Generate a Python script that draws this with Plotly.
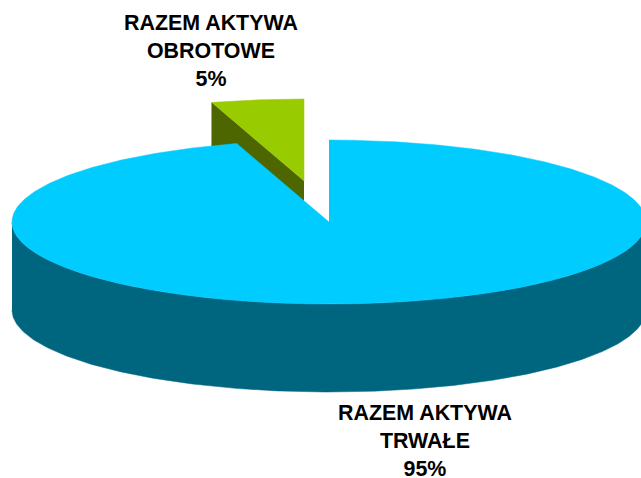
import numpy as np
import plotly.graph_objects as go

categories = ["RAZEM AKTYWA<br>TRWAŁE<br>95%", "RAZEM AKTYWA<br>OBROTOWE<br>5%"]
values = [95.3, 4.7]

W, H = 641, 478
CX, CY, RX, RY, DEPTH = 329, 222, 317, 82, 88
EXPLODE_DX, EXPLODE_DY = -25, -41

share = values[1] / sum(values)
split = 2 * np.pi * share


def rim(a0, a1, cx, cy, n=300):
    # angle measured counter-clockwise from 12 o'clock
    t = np.linspace(a0, a1, n)
    return cx - RX * np.sin(t), cy - RY * np.cos(t)


def poly(fig, xs, ys, color):
    fig.add_trace(go.Scatter(x=list(xs), y=list(ys), mode="lines", fill="toself",
                             fillcolor=color, line=dict(color=color, width=0.5),
                             hoverinfo="skip", showlegend=False))


fig = go.Figure()

# Exploded slice (drawn first, main pie covers its lower part)
sx, sy = CX + EXPLODE_DX, CY + EXPLODE_DY
rx_, ry_ = rim(0, split, sx, sy)
poly(fig, [sx, rx_[-1], rx_[-1], sx], [sy, ry_[-1], ry_[-1] + DEPTH, sy + DEPTH], "#4D6600")
poly(fig, np.r_[sx, rx_], np.r_[sy, ry_], "#99CC00")

# Main slice: side wall along the front, then top face
t = np.linspace(np.pi / 2, 3 * np.pi / 2, 300)
fx = CX - RX * np.sin(t)
fy = CY - RY * np.cos(t)
poly(fig, np.r_[fx, fx[::-1]], np.r_[fy, fy[::-1] + DEPTH], "#006680")
mx, my = rim(split, 2 * np.pi, CX, CY, 600)
poly(fig, np.r_[CX, mx], np.r_[CY, my], "#00CCFF")

font = dict(family="Liberation Sans, Arial, sans-serif", size=21.4, color="black")
fig.add_annotation(x=424.5, y=440.5, text="<b>" + categories[0] + "</b>", showarrow=False,
                   font=font, align="center", xref="x", yref="y")
fig.add_annotation(x=210.5, y=50.5, text="<b>" + categories[1] + "</b>", showarrow=False,
                   font=font, align="center", xref="x", yref="y")

fig.update_layout(width=W, height=H, margin=dict(l=0, r=0, t=0, b=0), autosize=False,
                  paper_bgcolor="white", plot_bgcolor="white", showlegend=False,
                  xaxis=dict(range=[0, W], visible=False, fixedrange=True),
                  yaxis=dict(range=[H, 0], visible=False, fixedrange=True))
fig.write_html("out.html", config={"displayModeBar": False},
               post_script="document.body.style.margin='0';document.body.style.overflow='hidden';")
